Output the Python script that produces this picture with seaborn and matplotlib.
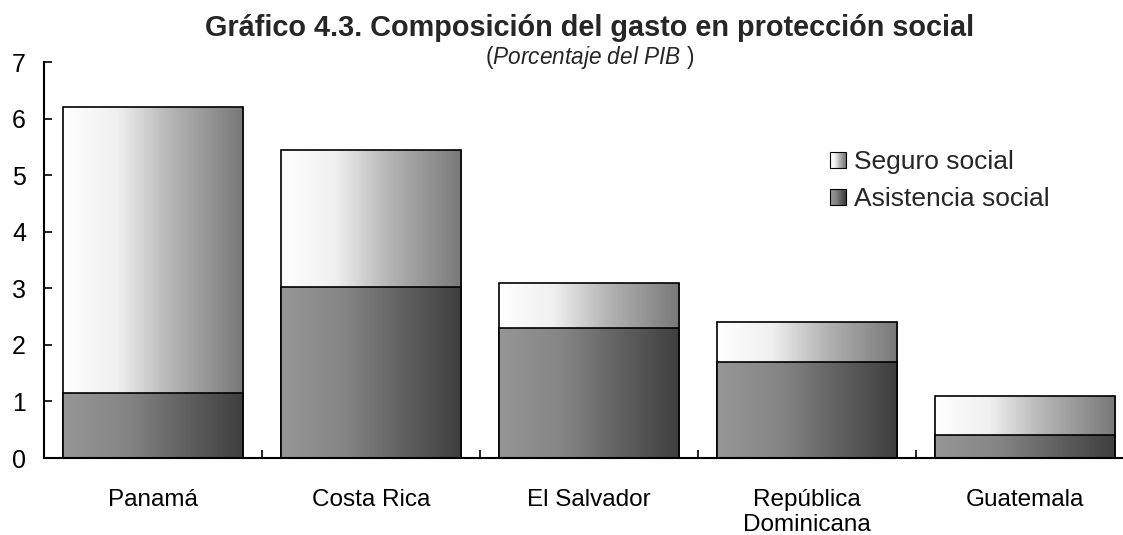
import numpy as np
import pandas as pd
import matplotlib
matplotlib.use("Agg")
import matplotlib.pyplot as plt
import seaborn as sns
from matplotlib.colors import LinearSegmentedColormap
from matplotlib.legend_handler import HandlerBase
from matplotlib.patches import Rectangle

categories = ["Panamá", "Costa Rica", "El Salvador", "República\nDominicana", "Guatemala"]
asistencia = [1.15, 3.02, 2.30, 1.70, 0.40]
seguro = [5.05, 2.43, 0.80, 0.70, 0.70]
yticks = [0, 1, 2, 3, 4, 5, 6, 7]
series_names = ["Seguro social", "Asistencia social"]
title = "Gráfico 4.3. Composición del gasto en protección social"

sns.set_theme(style="ticks")
plt.rcParams['font.family'] = ['Liberation Sans', 'DejaVu Sans']
plt.rcParams['mathtext.fontset'] = 'custom'
plt.rcParams['mathtext.it'] = 'Liberation Sans:italic'
plt.rcParams['mathtext.rm'] = 'Liberation Sans'

cmap_seg = LinearSegmentedColormap.from_list(
    "seg", [(0, "#ffffff"), (0.3, "#f0f0f0"), (0.6, "#b4b4b4"), (1, "#787878")])
cmap_asi = LinearSegmentedColormap.from_list(
    "asi", [(0, "#969696"), (0.35, "#858585"), (0.7, "#5e5e5e"), (1, "#3e3e3e")])

fig = plt.figure(figsize=(11.23, 5.35), dpi=100)
ax = fig.add_axes([44 / 1123, 77 / 535, 1090 / 1123, 396 / 535])

df = pd.DataFrame({"pais": categories,
                   "total": np.add(asistencia, seguro),
                   "asistencia": asistencia})

sns.barplot(data=df, x="pais", y="total", color="white", width=0.83,
            edgecolor="black", linewidth=1.2, ax=ax)
n_top = len(ax.patches)
sns.barplot(data=df, x="pais", y="asistencia", color="gray", width=0.83,
            edgecolor="black", linewidth=1.2, ax=ax)

grad = np.linspace(0, 1, 256).reshape(1, -1)
for i, p in enumerate(list(ax.patches)):
    top = i < n_top
    cmap = cmap_seg if top else cmap_asi
    base_z = 0.5 if top else 0.7
    x0, y0, w, h = p.get_x(), p.get_y(), p.get_width(), p.get_height()
    im = ax.imshow(grad, extent=[x0, x0 + w, y0, y0 + h], aspect="auto",
                   cmap=cmap, vmin=0, vmax=1, zorder=base_z, interpolation="bilinear")
    im.set_clip_path(p)
    p.set_facecolor("none")
    p.set_zorder(base_z + 0.05)

ax.set_xlim(-0.5, 4.5)
ax.set_ylim(0, 7)
ax.set_yticks(yticks)
ax.set_xlabel("")
ax.set_ylabel("")
sns.despine(ax=ax)
for s in ["left", "bottom"]:
    ax.spines[s].set_linewidth(1.5)
    ax.spines[s].set_color("black")

ax.tick_params(axis="y", direction="in", length=6, width=1.2, pad=13,
               labelsize=18, colors="black")
ax.tick_params(axis="x", which="major", length=0, pad=22, labelsize=17.5, colors="black")
ax.set_xticks([0.5, 1.5, 2.5, 3.5], minor=True)
ax.tick_params(axis="x", which="minor", direction="in", length=6, width=1.2, color="black")


class GradHandler(HandlerBase):
    def __init__(self, cmap):
        super().__init__()
        self.cmap = cmap

    def create_artists(self, legend, orig_handle, xdescent, ydescent, width, height, fontsize, trans):
        arts = []
        n = 16
        side = min(width, height * 1.1)
        y0 = -ydescent + (height - side) / 2
        for k in range(n):
            r = Rectangle((-xdescent + k * side / n, y0), side / n + 0.3, side,
                          facecolor=self.cmap(k / (n - 1)), edgecolor="none", transform=trans)
            arts.append(r)
        arts.append(Rectangle((-xdescent, y0), side, side, facecolor="none",
                              edgecolor="black", linewidth=0.8, transform=trans))
        return arts


h1 = Rectangle((0, 0), 1, 1)
h2 = Rectangle((0, 0), 1, 1)
fig.legend([h1, h2], series_names, loc="upper left",
           bbox_to_anchor=(830 / 1123, 1 - 150 / 535), frameon=False,
           fontsize=19, handlelength=0.62, handleheight=0.62, handletextpad=0.3,
           labelspacing=0.5, borderaxespad=0, borderpad=0,
           handler_map={h1: GradHandler(cmap_seg), h2: GradHandler(cmap_asi)})

fig.text(590 / 1123, 1 - 36 / 535, title, ha="center", va="baseline",
         fontsize=20.8, fontweight="bold")
fig.text(590 / 1123, 1 - 64 / 535, r"($\it{Porcentaje\ del\ PIB}$ )", ha="center",
         va="baseline", fontsize=16.3)

fig.savefig("out.png", dpi=100)
